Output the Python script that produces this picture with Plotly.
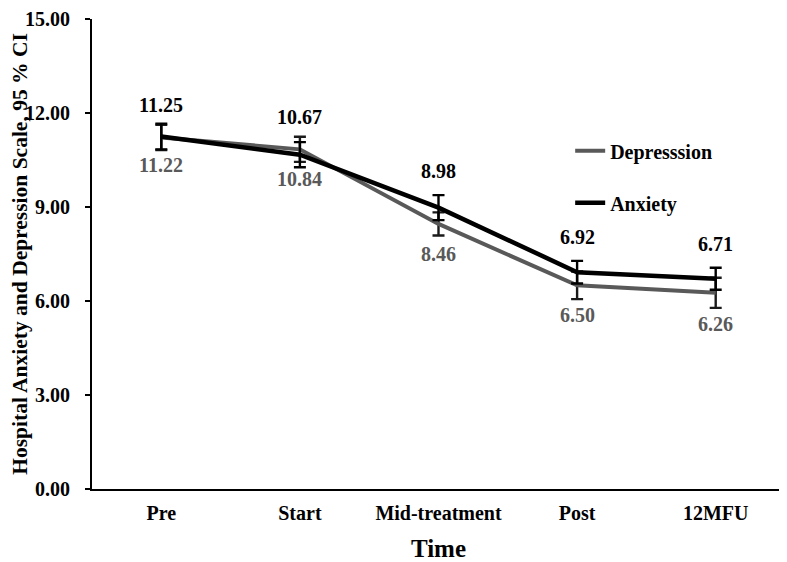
import plotly.graph_objects as go

categories = ["Pre", "Start", "Mid-treatment", "Post", "12MFU"]
depression = [11.22, 10.84, 8.46, 6.50, 6.26]
depression_ci = [0.40, 0.40, 0.37, 0.44, 0.48]
anxiety = [11.25, 10.67, 8.98, 6.92, 6.71]
anxiety_ci = [0.41, 0.40, 0.40, 0.36, 0.35]
y_ticks = [0, 3, 6, 9, 12, 15]

# label offsets in px (styling only)
anx_label_shift = [32, 38, 37, 35, 35]
dep_label_shift = [-28, -30, -30, -30, -31]

x = list(range(len(categories)))
FONT = "Liberation Serif, Times New Roman, serif"
DEP_COLOR = "#595959"

fig = go.Figure()
fig.add_trace(go.Scatter(
    x=x, y=depression, mode="lines", name="Depresssion",
    line=dict(color=DEP_COLOR, width=4),
    error_y=dict(type="data", array=depression_ci, color="#1a1a1a", thickness=2.4, width=6),
    legendgroup="d",
))
fig.add_trace(go.Scatter(
    x=x, y=anxiety, mode="lines", name="Anxiety",
    line=dict(color="black", width=4.5),
    error_y=dict(type="data", array=anxiety_ci, color="black", thickness=2.4, width=6),
    legendgroup="a",
))

for xi, v, s in zip(x, anxiety, anx_label_shift):
    fig.add_annotation(x=xi, y=v, text=f"{v:.2f}", showarrow=False, yshift=s,
                       font=dict(family=FONT, size=20, color="black", weight="bold"))
for xi, v, s in zip(x, depression, dep_label_shift):
    fig.add_annotation(x=xi, y=v, text=f"{v:.2f}", showarrow=False, yshift=s,
                       font=dict(family=FONT, size=20, color=DEP_COLOR, weight="bold"))

# page body adds an 8px margin, so the figure is sized to the visible area
fig.update_layout(
    width=779, height=554,
    margin=dict(l=84, r=2, t=11, b=73),
    paper_bgcolor="white", plot_bgcolor="white",
    font=dict(family=FONT, size=20, color="black", weight="bold"),
    showlegend=True,
    legend=dict(x=0.69, y=0.761, xanchor="left", yanchor="top",
                font=dict(family=FONT, size=20, color="black", weight="bold"),
                tracegroupgap=23, bgcolor="rgba(0,0,0,0)"),
    xaxis=dict(
        tickmode="array", tickvals=x, ticktext=categories,
        range=[-0.5, 4.5], showgrid=False, zeroline=False, automargin=False,
        showline=True, linecolor="black", linewidth=2, ticks="",
        ticklabelstandoff=5, ticklabeloverflow="allow",
        tickfont=dict(family=FONT, size=20, weight="bold"),
        title=dict(text="Time", font=dict(family=FONT, size=25, weight="bold"), standoff=20),
    ),
    yaxis=dict(
        range=[0, 15.0001], tickmode="array", tickvals=y_ticks,
        ticktext=[f"{t:.2f}" for t in y_ticks], automargin=False,
        showgrid=False, zeroline=False, showline=True, linecolor="black", linewidth=2,
        ticks="outside", ticklen=5, tickwidth=2, tickcolor="black",
        ticklabelstandoff=11, ticklabeloverflow="allow",
        tickfont=dict(family=FONT, size=20, weight="bold"),
        title=dict(text="Hospital Anxiety and Depression Scale, 95 % CI",
                   font=dict(family=FONT, size=21.5, weight="bold"), standoff=6),
    ),
)

fig.write_html("out.html")
